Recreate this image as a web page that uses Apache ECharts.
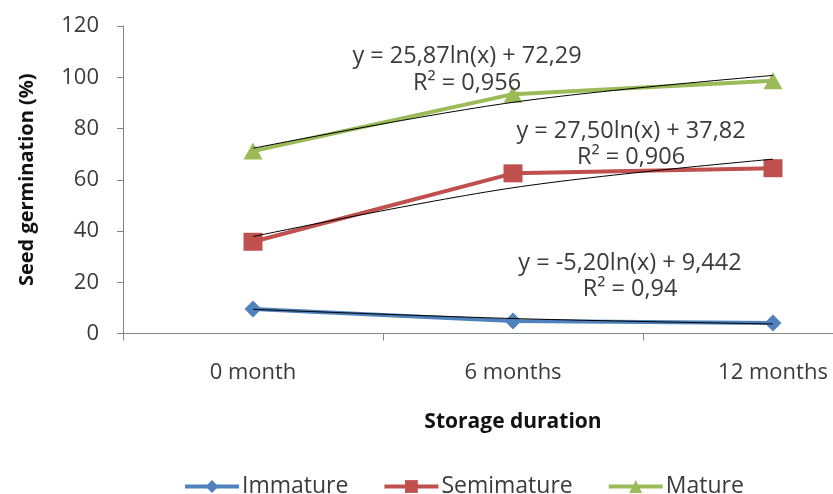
<!DOCTYPE html>
<html>
<head>
<meta charset="utf-8">
<script src="https://cdn.jsdelivr.net/npm/echarts@6/dist/echarts.min.js"></script>
<style>html,body{margin:0;padding:0;background:#fff;overflow:hidden;width:833px;height:494px;}#c{width:903px;height:494px;}</style>
</head>
<body>
<div id="c"></div>
<script>
var categories = ['0 month', '6 months', '12 months'];
var immature = [9.6, 4.9, 4.1];
var semimature = [35.8, 62.5, 64.5];
var mature = [71.2, 93.4, 98.6];
var trendImmature = [9.44, 5.84, 3.73];
var trendSemimature = [37.82, 56.88, 68.03];
var trendMature = [72.29, 90.22, 100.71];
var yTicks = [0, 20, 40, 60, 80, 100, 120];
var equations = [
  ['y = 25,87ln(x) + 72,29', 'R\u00b2 = 0,956'],
  ['y = 27,50ln(x) + 37,82', 'R\u00b2 = 0,906'],
  ['y = -5,20ln(x) + 9,442', 'R\u00b2 = 0,94']
];

var FONT = 'Open Sans';
var TXT = '#3b3b3b';
var chart = echarts.init(document.getElementById('c'), null, {renderer: 'canvas'});

function mainSeries(name, data, color, symbol, size) {
  return {
    name: name, type: 'line', data: data, z: 3,
    symbol: symbol, symbolSize: size, showSymbol: true,
    lineStyle: {color: color, width: 4},
    itemStyle: {color: color},
    emphasis: {disabled: true}
  };
}
function trendSeries(data) {
  return {
    type: 'line', data: data, z: 4, smooth: 0.35,
    symbol: 'none', silent: true,
    lineStyle: {color: '#000', width: 1}
  };
}
var annX = [467, 631, 630];
var annY = [[56, 83], [131, 157], [263, 289]];
var graphics = [];
equations.forEach(function (pair, i) {
  pair.forEach(function (t, j) {
    graphics.push({
      type: 'text', x: annX[i], y: annY[i][j], z: 10,
      style: {text: t, font: '23.5px "' + FONT + '"', fill: TXT, textAlign: 'center', textVerticalAlign: 'middle'}
    });
  });
});

chart.setOption({
  animation: false,
  textStyle: {fontFamily: FONT},
  grid: {left: 123, right: 0, top: 26, bottom: 160.5, containLabel: false},
  legend: {
    data: ['Immature', 'Semimature', 'Mature'],
    left: 183, top: 475, padding: 0, itemWidth: 54, itemHeight: 16, itemGap: 34,
    lineStyle: {width: 4},
    textStyle: {fontSize: 23, lineHeight: 22, color: TXT, fontFamily: FONT, padding: [0, 0, 0, -2]}
  },
  xAxis: {
    type: 'category', data: categories, boundaryGap: true,
    name: 'Storage duration', nameLocation: 'middle', nameGap: 78,
    nameTextStyle: {fontSize: 21, fontWeight: 'bold', color: '#111', fontFamily: FONT},
    axisLine: {lineStyle: {color: '#868686', width: 1}},
    axisTick: {show: true, length: 7, lineStyle: {color: '#868686'}},
    axisLabel: {fontSize: 22, color: TXT, margin: 28, fontFamily: FONT},
    splitLine: {show: false}
  },
  yAxis: {
    type: 'value', min: yTicks[0], max: yTicks[yTicks.length - 1], interval: 20,
    name: 'Seed germination (%)', nameLocation: 'middle', nameGap: 86, nameRotate: 90,
    nameTextStyle: {fontSize: 20, fontWeight: 'bold', color: '#111', fontFamily: FONT},
    axisLine: {show: true, lineStyle: {color: '#868686', width: 1}},
    axisTick: {show: true, length: 6, lineStyle: {color: '#868686'}},
    axisLabel: {fontSize: 22, color: TXT, margin: 24, fontFamily: FONT},
    splitLine: {show: false}
  },
  series: [
    mainSeries('Immature', immature, '#4F81BD', 'diamond', [17, 17]),
    mainSeries('Semimature', semimature, '#C0504D', 'rect', [19, 18]),
    mainSeries('Mature', mature, '#9BBB59', 'triangle', [19, 17]),
    trendSeries(trendImmature),
    trendSeries(trendSemimature),
    trendSeries(trendMature)
  ],
  graphic: graphics
});
</script>
</body>
</html>
